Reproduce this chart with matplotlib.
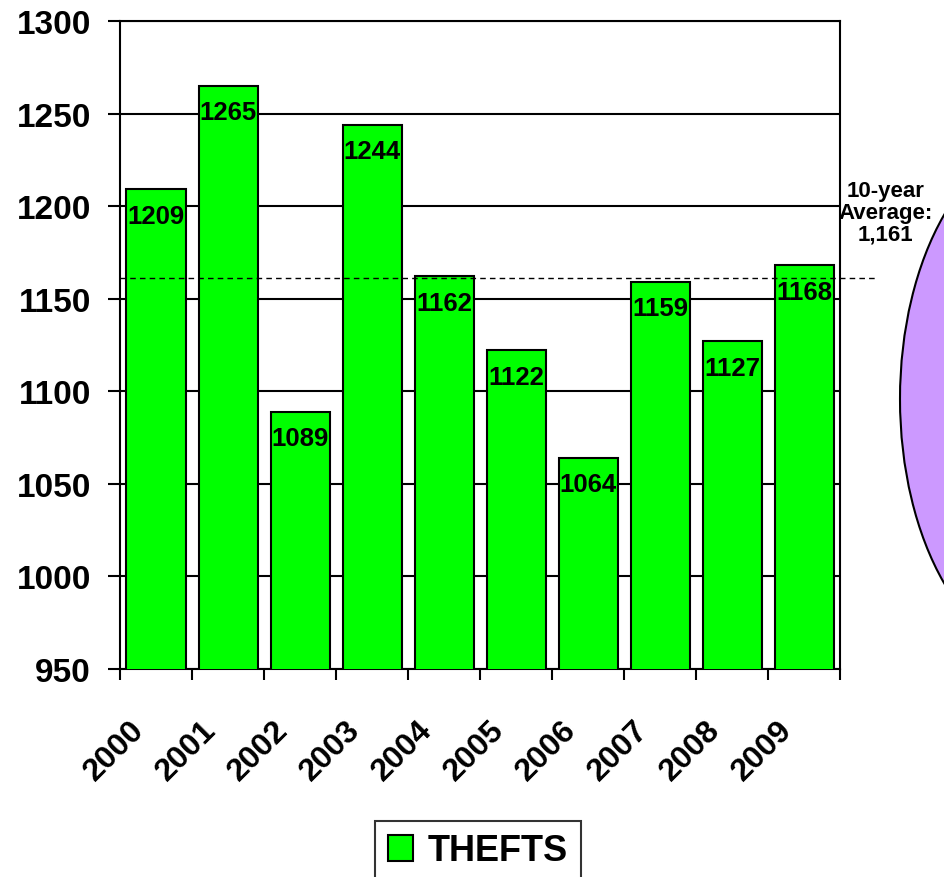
import matplotlib.pyplot as plt
import numpy as np
from matplotlib.patches import Ellipse

years = ["2000", "2001", "2002", "2003", "2004", "2005", "2006", "2007", "2008", "2009"]
thefts = [1209, 1265, 1089, 1244, 1162, 1122, 1064, 1159, 1127, 1168]
average = 1161

plt.rcParams['font.family'] = ['Liberation Sans', 'DejaVu Sans']
plt.rcParams['font.weight'] = 'bold'

fig = plt.figure(figsize=(9.45, 8.78), dpi=100)
ax = fig.add_axes([0.127, 0.237, 0.762, 0.738])

x = np.arange(len(years))
bars = ax.bar(x, thefts, width=0.82, color='#00FF00', edgecolor='black', linewidth=1.5,
              label='THEFTS', zorder=3)

for xi, v in zip(x, thefts):
    ax.annotate(str(v), (xi, v), xytext=(0, -19), textcoords='offset points',
                ha='center', va='center', fontsize=18.5, fontweight='bold', zorder=4)

ax.set_ylim(950, 1300)
ax.set_xlim(-0.5, len(years) - 0.5)
ax.set_yticks(np.arange(950, 1301, 50))
ax.yaxis.grid(True, color='black', linewidth=1.5, zorder=0)
ax.set_axisbelow(True)

# labels sit a little left of the bar centre, like the original
ax.set_xticks(x - 0.38)
ax.set_xticklabels(years, rotation=45, ha='right', rotation_mode='anchor',
                   fontsize=23, fontweight='bold')
ax.set_xticks(np.arange(-0.5, len(years)), minor=True)
ax.tick_params(axis='x', which='major', length=0, pad=33)
ax.tick_params(axis='x', which='minor', length=8, width=1.5, direction='out')
ax.tick_params(axis='y', length=9, width=1.5, direction='out', labelsize=24, pad=12)
for lab in ax.get_yticklabels():
    lab.set_fontweight('bold')
for s in ax.spines.values():
    s.set_linewidth(1.5)

# 10-year average line, runs past the plot edge
ax.axhline(average, xmin=0, xmax=1.049, color='black', linestyle=(0, (4, 3)),
           linewidth=1, clip_on=False, zorder=5)
fig.text(0.937, 0.757, "10-year\nAverage:\n1,161", ha='center', va='center',
         fontsize=16, fontweight='bold', linespacing=1.05)

# purple bubble cut off at the right edge
blob = Ellipse((1050 / 945, 1 - 400 / 878), 300 / 945, 520 / 878,
               transform=fig.transFigure, facecolor='#CC99FF', edgecolor='black',
               linewidth=1.5, clip_on=False)
fig.patches.append(blob)

leg = fig.legend(handles=[bars], labels=['THEFTS'], loc='center',
                 bbox_to_anchor=(478 / 945, 1 - 852 / 878), frameon=True,
                 fancybox=False, edgecolor='black', handlelength=0.7, handleheight=0.7,
                 handletextpad=0.4, borderpad=0.35, prop={'size': 26, 'weight': 'bold'})
leg.get_frame().set_linewidth(1.5)

fig.savefig('out.png', dpi=100)
